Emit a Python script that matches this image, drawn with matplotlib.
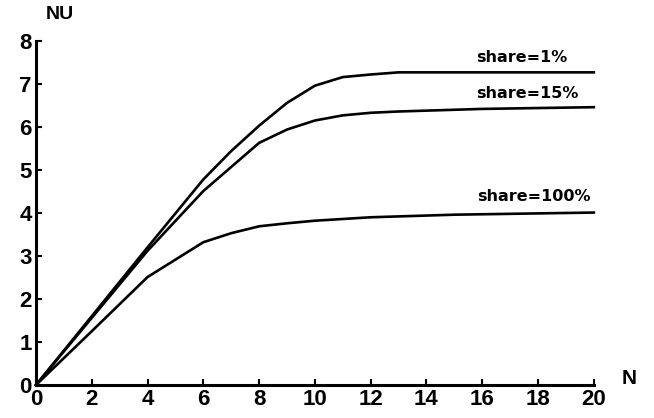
import matplotlib.pyplot as plt

plt.rcParams["font.family"] = ["Liberation Sans", "DejaVu Sans"]
plt.rcParams["font.weight"] = "bold"

# N values and NU for each share level
n = [0, 2, 4, 6, 7, 8, 9, 10, 11, 12, 13, 14, 15, 16, 17, 18, 19, 20]
nu_share_1 = [0, 1.6, 3.2, 4.78, 5.44, 6.03, 6.56, 6.96, 7.16, 7.22, 7.27,
              7.27, 7.27, 7.27, 7.27, 7.27, 7.27, 7.27]
nu_share_15 = [0, 1.56, 3.12, 4.51, 5.07, 5.63, 5.94, 6.15, 6.27, 6.33, 6.36,
               6.38, 6.40, 6.42, 6.43, 6.44, 6.45, 6.46]
nu_share_100 = [0, 1.25, 2.51, 3.32, 3.53, 3.69, 3.76, 3.82, 3.86, 3.90, 3.92,
                3.94, 3.96, 3.97, 3.98, 3.99, 4.00, 4.01]

labels = ["share=1%", "share=15%", "share=100%"]
label_pos = [(19.05, 7.45), (19.45, 6.6), (19.87, 4.2)]

fig = plt.figure(figsize=(6.54, 4.18), dpi=100)
ax = fig.add_axes([0.055, 0.079, 0.853, 0.823])

for series in (nu_share_1, nu_share_15, nu_share_100):
    ax.plot(n, series, color="black", lw=1.9, solid_joinstyle="round",
            clip_on=False)

for text, (x, y) in zip(labels, label_pos):
    ax.text(x, y, text, ha="right", va="bottom", fontsize=11.5,
            fontweight="bold", family="DejaVu Sans")

ax.set_xlim(0, 20)
ax.set_ylim(0, 8)
ax.set_xticks(range(0, 21, 2))
ax.set_yticks(range(0, 9))
for side in ("top", "right"):
    ax.spines[side].set_visible(False)
for side in ("left", "bottom"):
    ax.spines[side].set_linewidth(2.2)
ax.tick_params(direction="in", length=4, width=1.5, labelsize=16, pad=3)

fig.text(0.092, 0.965, "NU", ha="center", va="center", fontsize=14,
         fontweight="bold")
fig.text(0.962, 0.095, "N", ha="center", va="center", fontsize=15,
         fontweight="bold")

fig.savefig("out.png", dpi=100)
